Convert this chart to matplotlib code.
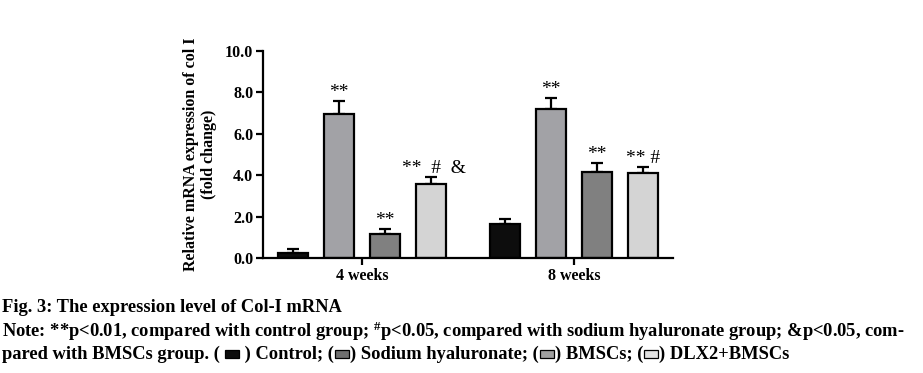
import numpy as np
import matplotlib
matplotlib.use('Agg')
import matplotlib.pyplot as plt
from matplotlib.patches import Rectangle

# ======= DATA ========
groups = ['4 weeks', '8 weeks']
series = ['Control', 'Sodium hyaluronate', 'BMSCs', 'DLX2+BMSCs']
means = [
    [0.24, 1.63],   # Control
    [6.97, 7.18],   # Sodium hyaluronate
    [1.18, 4.17],   # BMSCs
    [3.56, 4.08],   # DLX2+BMSCs
]
errs = [
    [0.18, 0.27],
    [0.61, 0.55],
    [0.24, 0.40],
    [0.35, 0.30],
]
marks = [
    ['', ''],
    ['**', '**'],
    ['**', '**'],
    ['**  #  &', '** #'],
]
bar_colors = ['#0d0d0d', '#a2a2a6', '#808080', '#d4d4d4']
icon_colors = ['#0d0d0d', '#6e6e6e', '#a0a0a0', '#e0e0e0']
y_ticks = [0, 2, 4, 6, 8, 10]
# =====================

plt.rcParams['font.family'] = ['Liberation Serif', 'DejaVu Serif']
plt.rcParams['mathtext.fontset'] = 'custom'
plt.rcParams['mathtext.rm'] = 'Liberation Serif:bold'
plt.rcParams['mathtext.default'] = 'rm'

fig = plt.figure(figsize=(9.23, 3.73), dpi=100)
ax = fig.add_axes([263 / 923, 1 - 258 / 373, 410 / 923, 207.3 / 373])

pitch = 0.217
width = 0.137
x = np.arange(len(groups))
for i in range(len(series)):
    pos = x + (i - 1.5) * pitch
    ax.bar(pos, means[i], width, color=bar_colors[i], edgecolor='black',
           linewidth=1.6, zorder=2)
    ax.errorbar(pos, means[i], yerr=[np.zeros(len(groups)), errs[i]], fmt='none',
                ecolor='black', elinewidth=1.6, capsize=4.5, capthick=1.6, zorder=1)
    for j in range(len(groups)):
        if marks[i][j]:
            shift = 0.015 if '&' in marks[i][j] else 0
            ax.text(pos[j] + shift, means[i][j] + errs[i][j] + 0.0, marks[i][j],
                    ha='center', va='bottom', fontsize=14)

ax.set_xlim(-0.467, 1.467)
ax.set_ylim(0, 10)
ax.set_yticks(y_ticks)
ax.set_yticklabels([f'{v:.1f}' for v in y_ticks], fontsize=11.5, fontweight='bold')
ax.set_xticks(x)
ax.set_xticklabels(groups, fontsize=11.5, fontweight='bold')
ax.tick_params(axis='both', direction='out', width=1.6, length=5, pad=2)
ax.spines['top'].set_visible(False)
ax.spines['right'].set_visible(False)
ax.spines['left'].set_linewidth(1.6)
ax.spines['bottom'].set_linewidth(1.6)
ax.set_ylabel('Relative mRNA expression of col I\n(fold change)', fontsize=11.5,
              fontweight='bold', linespacing=1.1, labelpad=6)

# caption
cap_fs = 13.3
fig.text(0.002, 1 - 307 / 373, 'Fig. 3: The expression level of Col-I mRNA',
         fontsize=cap_fs, fontweight='bold', va='center')
fig.text(0.002, 1 - 331 / 373,
         r'Note: **p<0.01, compared with control group; $^{\#}$p<0.05, compared with '
         r'sodium hyaluronate group; &p<0.05, com-',
         fontsize=cap_fs, fontweight='bold', va='center')

# third line with legend icons
renderer = fig.canvas.get_renderer()
y3 = 1 - 354 / 373
segments = ['pared with BMSCs group. ( ', 0, ' ) Control; (', 1, ') Sodium hyaluronate; (',
            2, ') BMSCs; (', 3, ') DLX2+BMSCs']
cur = 0.002
for seg in segments:
    if isinstance(seg, str):
        t = fig.text(cur, y3, seg, fontsize=cap_fs, fontweight='bold', va='center')
        bb = t.get_window_extent(renderer)
        cur = bb.x1 / fig.bbox.width
    else:
        w = 14 / 923
        h = 8 / 373
        fig.add_artist(Rectangle((cur + 1 / 923, y3 - h / 2), w, h,
                                 transform=fig.transFigure, facecolor=icon_colors[seg],
                                 edgecolor='black', linewidth=0.9))
        cur += w + 2 / 923

fig.savefig('out.png', dpi=100)
